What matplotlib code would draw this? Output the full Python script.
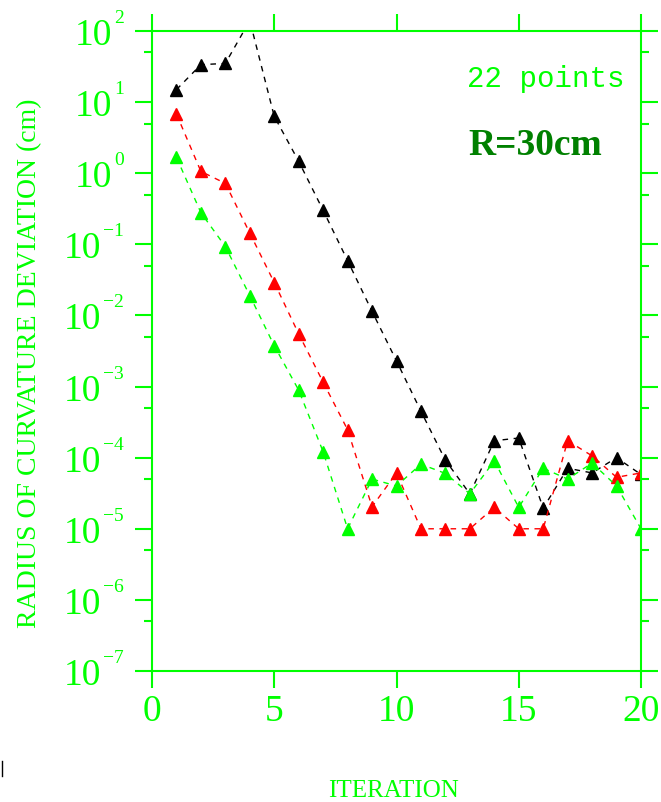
import matplotlib
matplotlib.use("Agg")
import matplotlib.pyplot as plt
from matplotlib import transforms as mtransforms
from matplotlib.ticker import LogLocator, NullFormatter, FixedLocator
from matplotlib.lines import Line2D

# ---- data ----
iterations = list(range(1, 21))
black_vals = [15, 33.6, 35, 140, 6.3, 1.47, 0.30, 0.059, 0.0114, 0.00229,
              4.5e-4, 9.2e-5, 3.1e-5, 1.73e-4, 1.89e-4, 1.95e-5, 7.1e-5, 6.1e-5, 1.0e-4, 5.8e-5]
red_vals = [6.8, 1.06, 0.72, 0.144, 0.029, 0.0055, 0.00115, 2.47e-4, 2.04e-5, 6.1e-5,
            1e-5, 1e-5, 1e-5, 2e-5, 1e-5, 1e-5, 1.73e-4, 1.06e-4, 5.3e-5, 6.1e-5]
green_vals = [1.67, 0.279, 0.093, 0.019, 0.00375, 8.9e-4, 1.21e-4, 1e-5, 5.0e-5, 4.0e-5,
              8.1e-5, 6.0e-5, 3.1e-5, 9.0e-5, 2e-5, 7.1e-5, 5.0e-5, 8.4e-5, 4.0e-5, 1e-5]
x_ticks = [0, 5, 10, 15, 20]
y_exponents = [2, 1, 0, -1, -2, -3, -4, -5, -6, -7]

LIME = "#00ff00"
W, H = 661, 803

fig = plt.figure(figsize=(W / 100, H / 100), dpi=100)
ax = fig.add_axes([152 / W, 1 - 672 / H, (641 - 152) / W, 640 / H])

for vals, col in [(black_vals, "black"), (red_vals, "red"), (green_vals, LIME)]:
    ax.plot(iterations, vals, color=col, lw=1.0, dashes=(4, 4),
            marker="^", markersize=9, markerfacecolor=col, markeredgecolor=col)

ax.set_yscale("log")
ax.set_ylim(1e-7, 1e2)
ax.set_xlim(0, 20)
ax.xaxis.set_major_locator(FixedLocator(x_ticks))
ax.yaxis.set_major_locator(LogLocator(base=10, numticks=20))
ax.yaxis.set_minor_locator(LogLocator(base=10, subs=[5.0], numticks=20))
ax.yaxis.set_minor_formatter(NullFormatter())
ax.set_xticklabels([str(t) for t in x_ticks])

for sp in ax.spines.values():
    sp.set_color(LIME)
    sp.set_linewidth(1.5)
ax.tick_params(which="both", direction="out", top=True, right=True,
               color=LIME, width=1.5)
ax.tick_params(which="major", length=12.5)
ax.tick_params(which="minor", length=6)
ax.tick_params(axis="y", which="both", labelleft=False, labelright=False)
ax.tick_params(axis="x", labelsize=27, labelcolor=LIME, pad=4, labeltop=False)
for lab in ax.get_xticklabels():
    lab.set_family("Liberation Serif")

# y tick labels: "10" with a small superscript exponent
fig.canvas.draw()
renderer = fig.canvas.get_renderer()
blend = mtransforms.blended_transform_factory(fig.transFigure, ax.transData)
for e in y_exponents:
    y = 10.0 ** e
    s = str(e).replace("-", "\u2212")
    t_exp = ax.text(124 / W, y, s, ha="right", va="baseline", fontsize=14,
                    family="Liberation Serif", color=LIME,
                    transform=blend + mtransforms.ScaledTranslation(0, 9 / 100, fig.dpi_scale_trans),
                    clip_on=False)
    bb = t_exp.get_window_extent(renderer)
    ax.text((bb.x0 - 2) / W, y, "10", ha="right", va="baseline", fontsize=27,
            family="Liberation Serif", color=LIME,
            transform=blend + mtransforms.ScaledTranslation(0, -13 / 100, fig.dpi_scale_trans),
            clip_on=False)

fig.text(30 / W, 1 - 363 / H, "RADIUS OF CURVATURE DEVIATION (cm)", rotation=90,
         ha="center", va="center", fontsize=20, family="Liberation Serif", color=LIME)
fig.text(393 / W, 1 - 797 / H, "ITERATION", ha="center", va="baseline",
         fontsize=18, family="Liberation Serif", color=LIME)
fig.text(467 / W, 1 - 87 / H, "22 points", ha="left", va="baseline",
         fontsize=21, family="Liberation Mono", color=LIME)
fig.text(468 / W, 1 - 155 / H, "R=30cm", ha="left", va="baseline",
         fontsize=27, family="Liberation Serif", weight="bold", color="#008000")

fig.add_artist(Line2D([1.5 / W, 1.5 / W], [1 - 762 / H, 1 - 777 / H],
                      color="black", lw=1.0))

fig.savefig("out.png", dpi=100)
